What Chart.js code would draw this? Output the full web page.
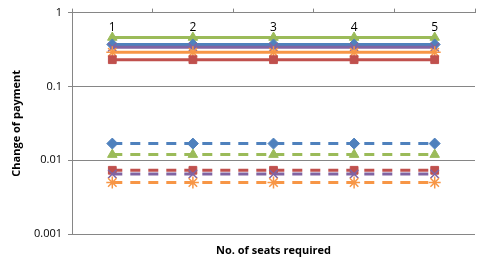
<!DOCTYPE html>
<html>
<head>
<meta charset="utf-8">
<script src="https://cdn.jsdelivr.net/npm/chart.js@4"></script>
<style>
  html, body { margin: 0; padding: 0; background: #fff; }
  #wrap { width: 484px; height: 257px; }
</style>
</head>
<body>
<div id="wrap"><canvas id="grafico"></canvas></div>
<script>
const categorias = ["1", "2", "3", "4", "5"];
const tickValores = [0.001, 0.01, 0.1, 1];
const tickTextos = ["0.001", "0.01", "0.1", "1"];

// solid series (top group)
const verdeCheio = [0.46, 0.46, 0.46, 0.46, 0.46];
const azulCheio = [0.37, 0.37, 0.37, 0.37, 0.37];
const roxoCheio = [0.34, 0.34, 0.34, 0.34, 0.34];
const laranjaCheio = [0.29, 0.29, 0.29, 0.29, 0.29];
const vermelhoCheio = [0.23, 0.23, 0.23, 0.23, 0.23];

// dashed series (bottom group)
const azulTracejado = [0.0168, 0.0168, 0.0168, 0.0168, 0.0168];
const verdeTracejado = [0.0119, 0.0119, 0.0119, 0.0119, 0.0119];
const vermelhoTracejado = [0.0073, 0.0073, 0.0073, 0.0073, 0.0073];
const roxoTracejado = [0.0065, 0.0065, 0.0065, 0.0065, 0.0065];
const laranjaTracejado = [0.0050, 0.0050, 0.0050, 0.0050, 0.0050];

const AZUL = "#4F81BD", VERMELHO = "#C0504D", VERDE = "#9BBB59", ROXO = "#8064A2", LARANJA = "#F79646";
const FONTE = "'Open Sans', 'DejaVu Sans', sans-serif";

function serie(label, data, cor, estilo, tracejado) {
  const linhas = estilo === "star" || estilo === "crossRot";
  return {
    label: label,
    data: data,
    borderColor: cor,
    backgroundColor: cor,
    borderWidth: 3,
    borderDash: tracejado ? [10, 8] : [],
    pointStyle: estilo,
    pointRadius: linhas ? 6 : 5.5,
    pointBorderWidth: linhas ? 1.5 : 1,
    tension: 0
  };
}

// labels 1..5 sit just inside the top of the plot
const rotulosX = {
  id: "rotulosX",
  afterDatasetsDraw(chart) {
    const ctx = chart.ctx;
    const x = chart.scales.x;
    ctx.save();
    ctx.font = "12px " + FONTE;
    ctx.fillStyle = "#000";
    ctx.textAlign = "center";
    ctx.textBaseline = "middle";
    categorias.forEach((c, i) => {
      ctx.fillText(c, x.getPixelForValue(i), chart.chartArea.top + 15);
    });
    ctx.restore();
  }
};

const ctx = document.getElementById("grafico").getContext("2d");
new Chart(ctx, {
  type: "line",
  data: {
    labels: categorias,
    datasets: [
      serie("Solid A", vermelhoCheio, VERMELHO, "rect", false),
      serie("Solid B", laranjaCheio, LARANJA, "star", false),
      serie("Solid C", roxoCheio, ROXO, "crossRot", false),
      serie("Solid D", azulCheio, AZUL, "rectRot", false),
      serie("Solid E", verdeCheio, VERDE, "triangle", false),
      serie("Dashed A", laranjaTracejado, LARANJA, "star", true),
      serie("Dashed B", roxoTracejado, ROXO, "crossRot", true),
      serie("Dashed C", vermelhoTracejado, VERMELHO, "rect", true),
      serie("Dashed D", verdeTracejado, VERDE, "triangle", true),
      serie("Dashed E", azulTracejado, AZUL, "rectRot", true)
    ]
  },
  options: {
    responsive: true,
    maintainAspectRatio: false,
    animation: false,
    layout: { padding: { left: 10, right: 9, top: 0, bottom: 0 } },
    plugins: {
      legend: { display: false },
      tooltip: { enabled: false }
    },
    scales: {
      x: {
        type: "category",
        position: "top",
        offset: true,
        grid: { display: true, offset: true, drawOnChartArea: false, tickLength: 4, color: "#868686" },
        border: { color: "#868686", width: 1 },
        ticks: { display: false },
        afterFit: (s) => { s.height = 12; }
      },
      x2: {
        type: "category",
        axis: "x",
        position: "bottom",
        labels: categorias,
        grid: { display: false },
        border: { display: false },
        ticks: { display: false },
        title: {
          display: true,
          text: "No. of seats required",
          color: "#000",
          font: { family: FONTE, size: 11, weight: "bold" },
          padding: { top: 2, bottom: 0 }
        },
        afterFit: (s) => { s.height = 23; }
      },
      y: {
        type: "logarithmic",
        min: 0.001,
        max: 1,
        grid: { color: "#868686", tickLength: 4 },
        border: { color: "#868686", width: 1 },
        afterBuildTicks: (s) => { s.ticks = tickValores.map(v => ({ value: v })); },
        ticks: {
          color: "#000",
          font: { family: FONTE, size: 11 },
          padding: 6,
          callback: (v) => {
            const i = tickValores.indexOf(v);
            return i >= 0 ? tickTextos[i] : "";
          }
        },
        title: {
          display: true,
          text: "Change of payment",
          color: "#000",
          font: { family: FONTE, size: 11, weight: "bold" },
          padding: { top: 0, bottom: 0 }
        },
        afterFit: (s) => { s.width = 62; }
      }
    }
  },
  plugins: [rotulosX]
});
</script>
</body>
</html>
